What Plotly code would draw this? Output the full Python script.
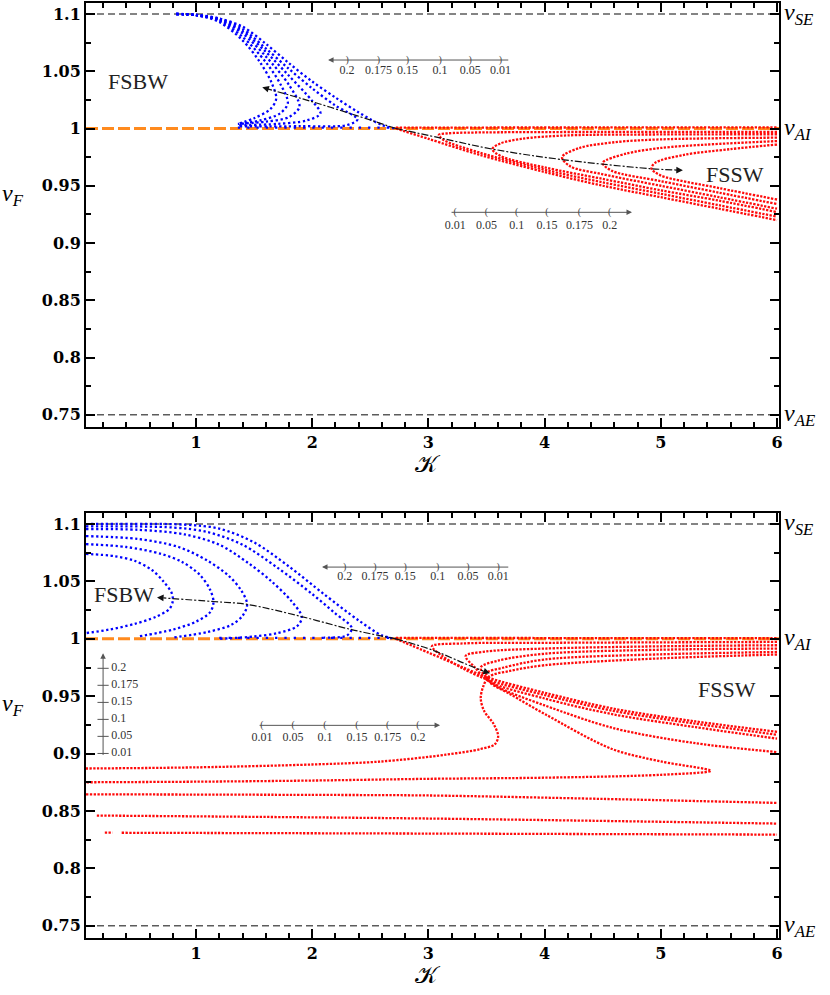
import plotly.graph_objects as go
from plotly.subplots import make_subplots

SERIF = "Liberation Serif"
TICKFONT = "DejaVu Serif"
BLUE = "#0000ff"
RED = "#ff0a0a"
ORANGE = "#ff8a1e"
GREY = "#5c5c5c"

# reference velocities (right hand labels)
level_vals = [1.1, 1.0, 0.75]
level_names = ["SE", "AI", "AE"]

x_ticks = [1, 2, 3, 4, 5, 6]
y_ticks = [0.75, 0.8, 0.85, 0.9, 0.95, 1.0, 1.05, 1.1]
y_ticktext = ["0.75", "0.8", "0.85", "0.9", "0.95", "1", "1.05", "1.1"]

# parameter labels on the little arrow scales
params_up = ["0.2", "0.175", "0.15", "0.1", "0.05", "0.01"]
params_dn = ["0.01", "0.05", "0.1", "0.15", "0.175", "0.2"]

# ---------------- top panel ----------------
top_blue = [
    [(0.83, 1.1), (1.0, 1.099), (1.2, 1.093), (1.4, 1.077), (1.55, 1.058), (1.65, 1.04), (1.69, 1.026),
     (1.64, 1.017), (1.5, 1.009), (1.36, 1.004)],
    [(0.83, 1.1), (1.0, 1.099), (1.2, 1.094), (1.4, 1.08), (1.6, 1.058), (1.73, 1.038), (1.79, 1.022),
     (1.72, 1.013), (1.55, 1.007), (1.36, 1.004)],
    [(0.83, 1.1), (1.0, 1.099), (1.2, 1.095), (1.4, 1.083), (1.6, 1.063), (1.8, 1.038), (1.89, 1.019),
     (1.8, 1.01), (1.6, 1.006), (1.36, 1.004)],
    [(0.83, 1.1), (1.0, 1.099), (1.2, 1.095), (1.4, 1.085), (1.6, 1.067), (1.8, 1.046), (2.0, 1.024),
     (2.07, 1.013), (1.95, 1.007), (1.7, 1.004), (1.36, 1.003)],
    [(0.83, 1.1), (1.0, 1.099), (1.2, 1.096), (1.4, 1.087), (1.6, 1.07), (1.8, 1.052), (2.0, 1.035),
     (2.2, 1.02), (2.39, 1.008), (2.3, 1.003), (1.9, 1.002), (1.36, 1.002)],
    [(0.83, 1.1), (1.0, 1.0995), (1.2, 1.096), (1.4, 1.089), (1.6, 1.074), (1.8, 1.057), (2.0, 1.041),
     (2.2, 1.027), (2.4, 1.014), (2.6, 1.003), (2.72, 1.0)],
]
top_blue_flat = [(1.36, 1.0008), (2.68, 1.0008)]

top_red = [
    [(2.72, 1.0), (3.0, 0.991), (3.44, 0.977), (4.0, 0.962), (4.5, 0.95), (5.0, 0.94), (5.5, 0.93), (6.0, 0.92)],
    [(6.0, 0.997), (4.5, 0.997), (3.4, 0.9965), (3.17, 0.9958), (3.09, 0.9945), (3.13, 0.99), (3.44, 0.979),
     (4.0, 0.964), (4.5, 0.953), (5.0, 0.943), (5.5, 0.933), (6.0, 0.923)],
    [(6.0, 0.995), (5.0, 0.9948), (4.2, 0.994), (3.8, 0.991), (3.62, 0.987), (3.55, 0.982), (3.62, 0.976),
     (4.0, 0.966), (4.5, 0.956), (5.0, 0.946), (5.5, 0.937), (6.0, 0.927)],
    [(6.0, 0.992), (5.0, 0.9905), (4.6, 0.988), (4.3, 0.983), (4.15, 0.975), (4.22, 0.967), (4.5, 0.96),
     (5.0, 0.95), (5.5, 0.94), (6.0, 0.93)],
    [(6.0, 0.989), (5.4, 0.986), (5.0, 0.983), (4.7, 0.978), (4.5, 0.97), (4.58, 0.963), (5.0, 0.954),
     (5.5, 0.944), (6.0, 0.934)],
    [(6.0, 0.986), (5.6, 0.982), (5.2, 0.977), (4.95, 0.97), (4.92, 0.965), (5.0, 0.959), (5.5, 0.948),
     (6.0, 0.938)],
]
top_red_flat = [(2.72, 1.0008), (6.0, 1.001)]

top_guide_left = [(2.72, 1.0), (2.39, 1.011), (1.98, 1.024), (1.6, 1.035)]
top_guide_right = [(2.72, 1.0), (3.09, 0.992), (3.55, 0.982), (4.14, 0.973), (4.9, 0.965), (5.14, 0.9637)]
top_arrow_tips = [(1.57, 1.036, 1.62, 1.0345), (5.19, 0.9635, 5.12, 0.9637)]

# ---------------- bottom panel ----------------
bot_blue = [
    [(0.053, 1.074), (0.3, 1.072), (0.47, 1.068), (0.62, 1.06), (0.72, 1.05), (0.79, 1.04), (0.8, 1.033),
     (0.77, 1.026), (0.65, 1.019), (0.47, 1.013), (0.25, 1.008), (0.053, 1.005)],
    [(0.053, 1.0825), (0.4, 1.08), (0.7, 1.074), (0.88, 1.067), (1.03, 1.056), (1.12, 1.043), (1.15, 1.032),
     (1.12, 1.023), (1.0, 1.015), (0.8, 1.008), (0.5, 1.002)],
    [(0.053, 1.0895), (0.5, 1.087), (0.85, 1.08), (1.1, 1.068), (1.28, 1.055), (1.39, 1.042), (1.44, 1.03),
     (1.4, 1.02), (1.3, 1.012), (1.1, 1.006), (0.8, 1.001)],
    [(0.053, 1.0956), (0.5, 1.095), (0.9, 1.091), (1.2, 1.082), (1.45, 1.066), (1.65, 1.05), (1.82, 1.033),
     (1.91, 1.019), (1.87, 1.011), (1.7, 1.005), (1.5, 1.002), (1.2, 1.0)],
    [(0.053, 1.098), (0.8, 1.097), (1.1, 1.093), (1.4, 1.082), (1.7, 1.062), (2.0, 1.039), (2.2, 1.022),
     (2.34, 1.0095), (2.3, 1.003), (2.1, 1.001)],
    [(0.053, 1.1), (0.9, 1.0995), (1.2, 1.096), (1.5, 1.084), (1.8, 1.063), (2.1, 1.039), (2.4, 1.016),
     (2.6, 1.003), (2.72, 1.0)],
]
bot_blue_flat = [(1.2, 1.0008), (2.68, 1.0008)]

bot_red = [
    [(2.72, 1.0), (3.0, 0.988), (3.3, 0.975), (3.52, 0.966), (4.0, 0.953), (4.6, 0.939), (5.3, 0.928),
     (6.0, 0.919)],
    [(6.0, 0.9973), (4.0, 0.9965), (3.3, 0.996), (3.03, 0.9935), (3.12, 0.985), (3.3, 0.974), (3.52, 0.964),
     (4.0, 0.951), (4.6, 0.937), (5.3, 0.926), (6.0, 0.9164)],
    [(6.0, 0.9944), (5.0, 0.9935), (4.0, 0.9915), (3.5, 0.989), (3.32, 0.985), (3.4, 0.975), (3.52, 0.963),
     (4.0, 0.948), (4.6, 0.934), (5.3, 0.923), (6.0, 0.913)],
    [(6.0, 0.9915), (5.0, 0.9905), (4.0, 0.987), (3.6, 0.981), (3.45, 0.975), (3.5, 0.966), (3.6, 0.958),
     (4.0, 0.942), (4.6, 0.922), (5.3, 0.909), (6.0, 0.9013)],
    [(6.0, 0.9885), (5.0, 0.9865), (4.0, 0.982), (3.65, 0.975), (3.5, 0.97), (3.53, 0.962), (3.7, 0.952),
     (4.01, 0.934), (4.58, 0.904), (5.01, 0.893), (5.43, 0.885), (5.0, 0.8815), (4.0, 0.879), (3.0, 0.878),
     (2.0, 0.8765), (1.0, 0.8755), (0.053, 0.875)],
    [(6.0, 0.9863), (5.0, 0.983), (4.0, 0.977), (3.7, 0.972), (3.52, 0.967), (3.47, 0.958), (3.45, 0.948),
     (3.48, 0.937), (3.56, 0.926), (3.6, 0.915), (3.57, 0.908), (3.45, 0.904), (3.15, 0.899), (2.58, 0.893),
     (2.0, 0.8905), (1.0, 0.888), (0.053, 0.887)],
]
bot_red_flat = [(2.72, 1.0008), (6.0, 1.0005)]
bot_red_low = [
    [(0.053, 0.8645), (2.0, 0.864), (3.0, 0.8635), (4.5, 0.8605), (6.0, 0.857)],
    [(0.146, 0.846), (3.0, 0.8434), (6.0, 0.839)],
    [(0.215, 0.8312), (0.28, 0.8312)],
    [(0.36, 0.831), (3.0, 0.8303), (6.0, 0.8294)],
]

bot_guide_left = [(2.72, 1.0), (2.34, 1.008), (1.895, 1.0197), (1.44, 1.03), (1.146, 1.0325), (0.72, 1.0356)]
bot_guide_right = [(2.72, 1.0), (3.04, 0.99), (3.3, 0.979), (3.47, 0.972)]
bot_arrow_tips = [(0.664, 1.036, 0.73, 1.0356), (3.53, 0.97, 3.46, 0.9723)]

# arrow scales: line from k0 to arrowhead at k1, marks and labels at the parameter positions
scale_top_a = dict(k0=3.70, k1=2.136, v=1.0598, marks=[2.30, 2.57, 2.82, 3.10, 3.36, 3.62], vlab=1.0503,
                   labels=params_up, mark=")")
scale_top_b = dict(k0=3.186, k1=4.752, v=0.9268, marks=[3.23, 3.50, 3.76, 4.02, 4.30, 4.56], vlab=0.9152,
                   labels=params_dn, mark="(")
scale_bot_c = dict(k0=3.70, k1=2.084, v=1.0625, marks=[2.28, 2.54, 2.80, 3.08, 3.34, 3.60], vlab=1.0535,
                   labels=params_up, mark=")")
scale_bot_d = dict(k0=1.534, k1=3.10, v=0.9246, marks=[1.568, 1.835, 2.11, 2.385, 2.65, 2.91], vlab=0.9138,
                   labels=params_dn, mark="(")
vscale_k = 0.2
vscale_v = [0.8975, 0.9874]
vscale_marks = [0.9001, 0.915, 0.9298, 0.9446, 0.9595, 0.9743]
vscale_labels = ["0.01", "0.05", "0.1", "0.15", "0.175", "0.2"]

# region labels: (text, K, v)
top_texts = [("FSBW", 0.50, 1.041), ("FSSW", 5.64, 0.9595)]
bot_texts = [("FSBW", 0.38, 1.039), ("FSSW", 5.57, 0.956)]

fig = make_subplots(rows=2, cols=1)


def dotted(pts, color, row, gap=1.4):
    fig.add_trace(go.Scatter(
        x=[p[0] for p in pts], y=[p[1] for p in pts], mode="lines",
        line=dict(color=color, width=2.3, shape="spline", smoothing=0.9, dash="2.3px,%gpx" % gap),
        hoverinfo="skip", showlegend=False), row=row, col=1)


def guide(pts, row):
    fig.add_trace(go.Scatter(
        x=[p[0] for p in pts], y=[p[1] for p in pts], mode="lines",
        line=dict(color="#111111", width=1.2, shape="spline", dash="7px,2px,2px,2px"),
        hoverinfo="skip", showlegend=False), row=row, col=1)


for curve in top_blue:
    dotted(curve, BLUE, 1, gap=2.6)
dotted(top_blue_flat, BLUE, 1, gap=7)
dotted(top_red_flat, RED, 1, gap=1.6)
for curve in top_red:
    dotted(curve, RED, 1)
guide(top_guide_left, 1)
guide(top_guide_right, 1)

for curve in bot_blue:
    dotted(curve, BLUE, 2, gap=2.6)
dotted(bot_blue_flat, BLUE, 2, gap=7)
dotted(bot_red_flat, RED, 2, gap=1.6)
for curve in bot_red + bot_red_low:
    dotted(curve, RED, 2)
guide(bot_guide_left, 2)
guide(bot_guide_right, 2)

annotations = []
shapes = []

for xr, yr in [("x", "y"), ("x2", "y2")]:
    for val, name in zip(level_vals, level_names):
        if val == 1.0:
            line = dict(color=ORANGE, width=3, dash="12px,4px")
        else:
            line = dict(color=GREY, width=1.5, dash="7px,4px")
        shapes.append(dict(type="line", xref=xr + " domain", yref=yr, x0=0, x1=1, y0=val, y1=val,
                           line=line, layer="below"))
        annotations.append(dict(xref=xr + " domain", yref=yr, x=1, y=val, xanchor="left", xshift=3,
                                yanchor="middle", showarrow=False,
                                text="<i>v</i><sub><i>%s</i></sub>" % name,
                                font=dict(family=SERIF, size=24, color="black")))
    annotations.append(dict(xref=xr + " domain", yref=yr, x=-0.124, y=0.942, xanchor="left",
                            yanchor="middle", showarrow=False, text="<i>v</i><sub><i>F</i></sub>",
                            font=dict(family=SERIF, size=24, color="black")))
    annotations.append(dict(xref=xr, yref=yr + " domain", x=3.0, y=0, yshift=-37, yanchor="middle",
                            showarrow=False, text="\U0001D4A6",
                            font=dict(family="DejaVu Serif", size=24, color="black")))

for xr, yr, texts, tips in [("x", "y", top_texts, top_arrow_tips), ("x2", "y2", bot_texts, bot_arrow_tips)]:
    for txt, kx, vy in texts:
        annotations.append(dict(xref=xr, yref=yr, x=kx, y=vy, showarrow=False, text=txt,
                                font=dict(family=SERIF, size=22, color="#222222")))
    for tx, ty, bx, by in tips:
        annotations.append(dict(xref=xr, yref=yr, axref=xr, ayref=yr, x=tx, y=ty, ax=bx, ay=by, text="",
                                showarrow=True, arrowhead=2, arrowsize=1.1, arrowwidth=1.2,
                                arrowcolor="#111111", standoff=0))

for xr, yr, sc in [("x", "y", scale_top_a), ("x", "y", scale_top_b), ("x2", "y2", scale_bot_c),
                   ("x2", "y2", scale_bot_d)]:
    annotations.append(dict(xref=xr, yref=yr, axref=xr, ayref=yr, x=sc["k1"], y=sc["v"], ax=sc["k0"],
                            ay=sc["v"], text="", showarrow=True, arrowhead=2, arrowsize=1.1,
                            arrowwidth=1.0, arrowcolor="#555555", standoff=0))
    row = 1 if xr == "x" else 2
    fig.add_trace(go.Scatter(x=sc["marks"], y=[sc["v"]] * len(sc["marks"]), mode="text",
                             text=[sc["mark"]] * len(sc["marks"]),
                             textfont=dict(family=SERIF, size=10, color="#444444"),
                             hoverinfo="skip", showlegend=False), row=row, col=1)
    fig.add_trace(go.Scatter(x=sc["marks"], y=[sc["vlab"]] * len(sc["marks"]), mode="text",
                             text=sc["labels"], textfont=dict(family=SERIF, size=12, color="#333333"),
                             hoverinfo="skip", showlegend=False), row=row, col=1)

# vertical scale (bottom panel)
annotations.append(dict(xref="x2", yref="y2", axref="x2", ayref="y2", x=vscale_k, y=vscale_v[1],
                        ax=vscale_k, ay=vscale_v[0], text="", showarrow=True, arrowhead=2, arrowsize=1.1,
                        arrowwidth=1.0, arrowcolor="#555555", standoff=0))
fig.add_trace(go.Scatter(x=[vscale_k] * len(vscale_marks), y=vscale_marks, mode="markers",
                         marker=dict(symbol="line-ew", size=8, line=dict(color="#555555", width=1)),
                         hoverinfo="skip", showlegend=False), row=2, col=1)
fig.add_trace(go.Scatter(x=[vscale_k + 0.07] * len(vscale_marks), y=vscale_marks, mode="text",
                         text=vscale_labels, textposition="middle right",
                         textfont=dict(family=SERIF, size=12, color="#333333"),
                         hoverinfo="skip", showlegend=False), row=2, col=1)

axis_common = dict(showline=True, linewidth=2, linecolor="black", mirror="allticks", ticks="inside",
                   ticklen=9, tickwidth=2, tickcolor="black", showgrid=False, zeroline=False,
                   automargin=False,
                   tickfont=dict(family=TICKFONT, size=16, color="black", weight="bold"))
fig.update_xaxes(range=[0.053, 6.017], tickmode="array", tickvals=x_ticks,
                 minor=dict(tickmode="linear", tick0=0, dtick=0.2, ticks="inside", ticklen=5, tickwidth=1.5,
                            tickcolor="black"), **axis_common)
fig.update_yaxes(range=[0.7393, 1.1096], tickmode="array", tickvals=y_ticks, ticktext=y_ticktext,
                 minor=dict(tickmode="linear", tick0=0.75, dtick=0.025, ticks="inside", ticklen=5,
                            tickwidth=1.5, tickcolor="black"), **axis_common)

fig.update_layout(
    width=830, height=995,
    margin=dict(l=86, r=51, t=3, b=57),
    paper_bgcolor="white", plot_bgcolor="white",
    showlegend=False,
    yaxis=dict(domain=[0.5465, 1.0]),
    yaxis2=dict(domain=[0.0, 0.4545]),
    annotations=annotations,
    shapes=shapes,
)

# the page body keeps its default 8px margin otherwise
fig.write_html("out.html", config={"displayModeBar": False},
               post_script="document.body.style.margin = '0';")
